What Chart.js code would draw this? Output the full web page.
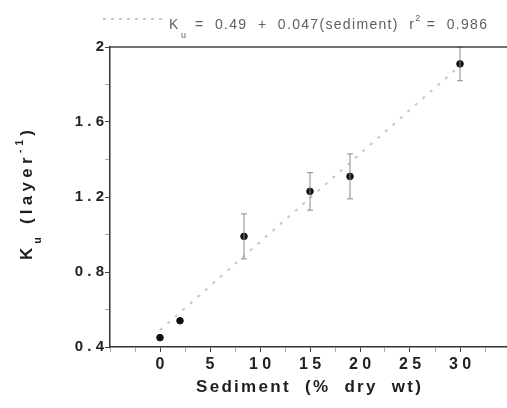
<!DOCTYPE html>
<html><head><meta charset="utf-8">
<script src="https://cdn.jsdelivr.net/npm/chart.js@4/dist/chart.umd.min.js"></script>
<style>html,body{margin:0;padding:0;background:#fff;overflow:hidden}</style>
</head><body>
<canvas id="c" width="507" height="408"></canvas>
<script>
// ---- data ----
const sediment = [0, 2, 8.4, 15, 19, 30];
const ku = [0.45, 0.54, 0.99, 1.23, 1.31, 1.91];
const kuErr = [0, 0, 0.12, 0.10, 0.12, 0.09];
const fitX = [0, 30];
const fitY = [0.49, 1.90];
const xTickValues = [0, 5, 10, 15, 20, 25, 30];
const xTickLabels = ['0', '5', '1 0', '1 5', '2 0', '2 5', '3 0'];
const yTickValues = [0.4, 0.8, 1.2, 1.6, 2.0];
const yTickLabels = ['0 . 4', '0 . 8', '1 . 2', '1 . 6', '2'];
const xTitle = 'Sediment  (%  dry  wt)';
const yTitleMain = 'K', yTitleSub = 'u', yTitleMid = ' (layer', yTitleSup = '-1', yTitleEnd = ')';
const eqK = 'K', eqSub = 'u', eqMain = '=  0.49  +  0.047(sediment)  r', eqSup = '2', eqEnd = '=  0.986';

const near = (a, b) => Math.abs(a - b) < 1e-6;
const labelFor = (v, vals, labs) => { const i = vals.findIndex(t => near(t, v)); return i >= 0 ? labs[i] : ''; };
const isMajor = (v, vals) => vals.some(t => near(t, v));

function drawSpaced(ctx, parts, x0, x1, y) {
  ctx.letterSpacing = '0px';
  let natural = 0, n = 0;
  parts.forEach(p => { ctx.font = p.font; natural += ctx.measureText(p.t).width; n += p.t.length; });
  const ls = (x1 - x0 - natural) / Math.max(1, n - 1);
  let x = x0;
  parts.forEach(p => {
    ctx.font = p.font;
    const w = ctx.measureText(p.t).width;
    ctx.letterSpacing = ls + 'px';
    ctx.fillText(p.t, x, y + (p.dy || 0));
    ctx.letterSpacing = '0px';
    x += w + ls * p.t.length;
  });
}

const decor = {
  id: 'decor',
  afterDatasetsDraw(chart) {
    const ctx = chart.ctx, xs = chart.scales.x, ys = chart.scales.y;
    ctx.save();
    ctx.strokeStyle = '#8a8a8a';
    ctx.lineWidth = 1;
    sediment.forEach((sx, i) => {
      if (!kuErr[i]) return;
      const px = xs.getPixelForValue(sx);
      const top = ys.getPixelForValue(ku[i] + kuErr[i]);
      const bot = ys.getPixelForValue(ku[i] - kuErr[i]);
      ctx.beginPath();
      ctx.moveTo(px, top); ctx.lineTo(px, bot);
      ctx.moveTo(px - 3, top); ctx.lineTo(px + 3, top);
      ctx.moveTo(px - 3, bot); ctx.lineTo(px + 3, bot);
      ctx.stroke();
    });
    ctx.restore();
  },
  afterDraw(chart) {
    const ctx = chart.ctx, a = chart.chartArea;
    ctx.save();
    ctx.strokeStyle = '#444';
    ctx.lineWidth = 1.5;
    ctx.beginPath(); ctx.moveTo(a.left, a.top); ctx.lineTo(a.right, a.top); ctx.stroke();

    ctx.strokeStyle = '#c8c8c8';
    ctx.lineWidth = 2;
    ctx.setLineDash([3, 5]);
    ctx.beginPath(); ctx.moveTo(103, 19); ctx.lineTo(165, 19); ctx.stroke();
    ctx.setLineDash([]);
    ctx.fillStyle = '#606060';
    ctx.textBaseline = 'alphabetic';
    ctx.textAlign = 'left';
    ctx.font = '14px "Liberation Sans", Arial, sans-serif';
    ctx.fillText(eqK, 169, 29);
    ctx.font = '9px "Liberation Sans", Arial, sans-serif';
    ctx.fillText(eqSub, 181, 38);
    drawSpaced(ctx, [
      {t: eqMain, font: '14px "Liberation Sans", Arial, sans-serif'},
      {t: eqSup, font: '9px "Liberation Sans", Arial, sans-serif', dy: -8},
      {t: ' ' + eqEnd, font: '14px "Liberation Sans", Arial, sans-serif'}
    ], 195, 487, 29);

    ctx.fillStyle = '#1e1e1e';
    drawSpaced(ctx, [{t: xTitle, font: 'bold 17px "Liberation Sans", Arial, sans-serif'}], 196, 421, 392);

    ctx.translate(32, 260);
    ctx.rotate(-Math.PI / 2);
    drawSpaced(ctx, [
      {t: yTitleMain, font: 'bold 17px "Liberation Sans", Arial, sans-serif'},
      {t: yTitleSub, font: 'bold 10px "Liberation Sans", Arial, sans-serif', dy: 9},
      {t: yTitleMid, font: 'bold 17px "Liberation Sans", Arial, sans-serif'},
      {t: yTitleSup, font: 'bold 10px "Liberation Sans", Arial, sans-serif', dy: -9},
      {t: yTitleEnd, font: 'bold 17px "Liberation Sans", Arial, sans-serif'}
    ], 0, 130, 0);
    ctx.restore();
  }
};

new Chart(document.getElementById('c'), {
  data: {
    datasets: [
      {
        type: 'line',
        data: fitX.map((x, i) => ({x, y: fitY[i]})),
        borderColor: '#c8c8c8',
        borderWidth: 2,
        borderDash: [3, 7],
        pointRadius: 0,
        fill: false,
        order: 2
      },
      {
        type: 'scatter',
        data: sediment.map((x, i) => ({x, y: ku[i]})),
        backgroundColor: '#111',
        borderColor: '#111',
        pointRadius: 3.3,
        order: 1
      }
    ]
  },
  options: {
    responsive: false,
    animation: false,
    layout: {autoPadding: false, padding: {top: 47, left: 0, right: 0, bottom: 0}},
    plugins: {legend: {display: false}, tooltip: {enabled: false}},
    scales: {
      x: {
        type: 'linear',
        min: -5, max: 34.7,
        afterFit(s) { s.height = 61; s.paddingRight = 0; s.paddingLeft = 0; },
        border: {color: '#333', width: 1.5},
        grid: {
          drawOnChartArea: false, drawTicks: true, tickLength: 5,
          tickColor: c => (c.tick && isMajor(c.tick.value, xTickValues)) ? '#444' : '#aaa'
        },
        ticks: {
          stepSize: 2.5, includeBounds: false, autoSkip: false, maxRotation: 0, padding: 3,
          color: '#222',
          font: {family: '"Liberation Sans", Arial, sans-serif', size: 16, weight: 'bold'},
          callback: v => labelFor(v, xTickValues, xTickLabels)
        }
      },
      y: {
        type: 'linear',
        min: 0.4, max: 2,
        afterFit(s) { s.width = 110; },
        border: {color: '#333', width: 1.5},
        grid: {
          drawOnChartArea: false, drawTicks: true, tickLength: 5,
          tickColor: c => (c.tick && isMajor(c.tick.value, yTickValues)) ? '#444' : '#aaa'
        },
        ticks: {
          stepSize: 0.2, autoSkip: false, padding: 1,
          color: '#222',
          font: {family: '"Liberation Sans", Arial, sans-serif', size: 15, weight: 'bold'},
          callback: v => labelFor(v, yTickValues, yTickLabels)
        }
      }
    }
  },
  plugins: [decor]
});
</script>
</body></html>
